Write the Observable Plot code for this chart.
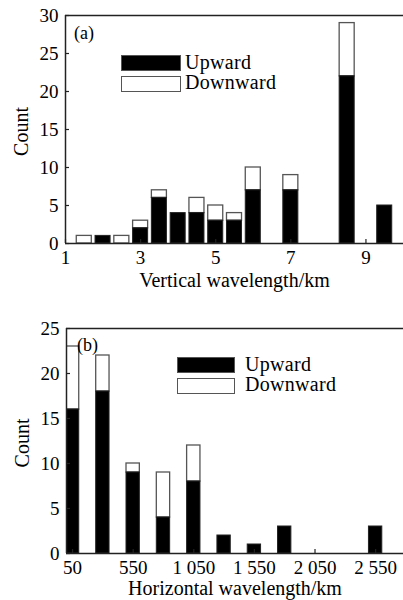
<!DOCTYPE html>
<html><head><meta charset="utf-8">
<script src="https://cdn.jsdelivr.net/npm/d3@7"></script>
<script src="https://cdn.jsdelivr.net/npm/@observablehq/plot@0.6"></script>
<style>
body{margin:0;background:#fff;}
#wrap{position:relative;width:403px;height:600px;overflow:hidden;background:#fff;font-family:"Liberation Serif","Times New Roman",serif;}
.panel{position:absolute;left:0;width:403px;height:300px;}
.sw{position:absolute;height:16px;box-sizing:border-box;border:1.3px solid #555;}
.lt{position:absolute;font-size:20px;line-height:1;color:#000;letter-spacing:0.3px;white-space:nowrap;}
.tag{position:absolute;font-size:18px;line-height:1;color:#000;white-space:nowrap;}
</style></head>
<body>
<div id="wrap">
  <div class="panel" id="pa" style="top:0"></div>
  <div class="panel" id="pb" style="top:300px"></div>
</div>
<script>
// ---- Panel (a): vertical wavelength ----
const centersA = [1.5, 2.0, 2.5, 3.0, 3.5, 4.0, 4.5, 5.0, 5.5, 6.0, 7.0, 8.5, 9.5];
const upwardA   = [0, 1, 0, 2, 6, 4, 4, 3, 3, 7, 7, 22, 5];
const downwardA = [1, 0, 1, 1, 1, 0, 2, 2, 1, 3, 2, 7, 0];
const xTicksA = [1, 3, 5, 7, 9];
const xTickLabelsA = ["1", "3", "5", "7", "9"];
const yTicksA = [0, 5, 10, 15, 20, 25, 30];

// ---- Panel (b): horizontal wavelength ----
const centersB = [50, 300, 550, 800, 1050, 1300, 1550, 1800, 2550];
const upwardB   = [16, 18, 9, 4, 8, 2, 1, 3, 3];
const downwardB = [7, 4, 1, 5, 4, 0, 0, 0, 0];
const xTicksB = [50, 550, 1050, 1550, 2050, 2550];
const xTickLabelsB = ["50", "550", "1 050", "1 550", "2 050", "2 550"];
const yTicksB = [0, 5, 10, 15, 20, 25];

const seriesNames = ["Upward", "Downward"];

function panel(o) {
  const rows = o.centers.map((c, i) => ({c, up: o.up[i], down: o.down[i]}));
  const axisColor = "#222";
  const x0 = o.xDomain[0], y0 = o.yDomain[0], y1 = o.yDomain[1];
  return Plot.plot({
    width: 403, height: 300,
    marginLeft: o.marginLeft, marginRight: 0, marginTop: o.marginTop, marginBottom: o.marginBottom,
    style: {fontFamily: '"Liberation Serif", "Times New Roman", serif', fontSize: "19px", background: "transparent", color: "#000", overflow: "visible"},
    x: {domain: o.xDomain},
    y: {domain: o.yDomain},
    marks: [
      Plot.rect(rows.filter(d => d.down > 0), {
        x1: d => d.c - o.half, x2: d => d.c + o.half, y1: d => d.up, y2: d => d.up + d.down,
        fill: "white", stroke: "#555", strokeWidth: 1.3, clip: true
      }),
      Plot.rect(rows.filter(d => d.up > 0), {
        x1: d => d.c - o.half, x2: d => d.c + o.half, y1: 0, y2: d => d.up,
        fill: "black", stroke: "#222", strokeWidth: 1, clip: true
      }),
      Plot.ruleY([y0], {stroke: axisColor, strokeWidth: 1.5}),
      Plot.ruleY([y1], {stroke: axisColor, strokeWidth: 1.5}),
      Plot.ruleX([x0], {stroke: axisColor, strokeWidth: 1.5}),
      Plot.ruleX(o.xTicks, {y1: y0, y2: y0, insetBottom: 4, stroke: axisColor, strokeWidth: 1.2}),
      Plot.ruleY(o.yTicks, {x1: x0, x2: x0, insetRight: -4, stroke: axisColor, strokeWidth: 1.2}),
      Plot.axisX({ticks: o.xTicks, tickFormat: d => o.xLabels[o.xTicks.indexOf(d)], tickSize: 0, tickPadding: 7, label: null, fontSize: 19}),
      Plot.axisY({ticks: o.yTicks, tickSize: 0, tickPadding: 7, label: null, fontSize: 19}),
      Plot.text([o.xTitle], {frameAnchor: "bottom", lineAnchor: "middle", textAnchor: "middle", dy: o.titleDy, fontSize: 20}),
      Plot.text(["Count"], {frameAnchor: "left", lineAnchor: "middle", textAnchor: "middle", rotate: -90, dx: -44, dy: 2, fontSize: 20})
    ]
  });
}

document.getElementById("pa").appendChild(panel({
  centers: centersA, up: upwardA, down: downwardA, half: 0.2,
  xDomain: [1, 10], yDomain: [0, 30], xTicks: xTicksA, xLabels: xTickLabelsA, yTicks: yTicksA,
  xTitle: "Vertical wavelength/km", marginLeft: 65, marginTop: 15, marginBottom: 57, titleDy: 37
}));
document.getElementById("pb").appendChild(panel({
  centers: centersB, up: upwardB, down: downwardB, half: 55,
  xDomain: [0, 2780], yDomain: [0, 25], xTicks: xTicksB, xLabels: xTickLabelsB, yTicks: yTicksB,
  xTitle: "Horizontal wavelength/km", marginLeft: 66, marginTop: 28, marginBottom: 47, titleDy: 35.5
}));

// legends and panel tags (HTML overlays)
function legend(left, top, w, textLeft) {
  const wrap = document.getElementById("wrap");
  const mk = (cls, css, txt) => { const e = document.createElement("div"); e.className = cls; e.style.cssText = css; if (txt) e.textContent = txt; wrap.appendChild(e); };
  mk("sw", `left:${left}px;top:${top}px;width:${w}px;background:#000;`);
  mk("sw", `left:${left}px;top:${top + 21}px;width:${w}px;background:#fff;`);
  mk("lt", `left:${textLeft}px;top:${top - 3.5}px;`, seriesNames[0]);
  mk("lt", `left:${textLeft}px;top:${top + 16.5}px;`, seriesNames[1]);
}
legend(121, 55, 60, 185);
legend(177, 357, 58, 245);
(function(){
  const wrap = document.getElementById("wrap");
  const a = document.createElement("div"); a.className = "tag"; a.style.cssText = "left:74px;top:24px;"; a.textContent = "(a)"; wrap.appendChild(a);
  const b = document.createElement("div"); b.className = "tag"; b.style.cssText = "left:77px;top:336px;"; b.textContent = "(b)"; wrap.appendChild(b);
})();
</script>
</body></html>
